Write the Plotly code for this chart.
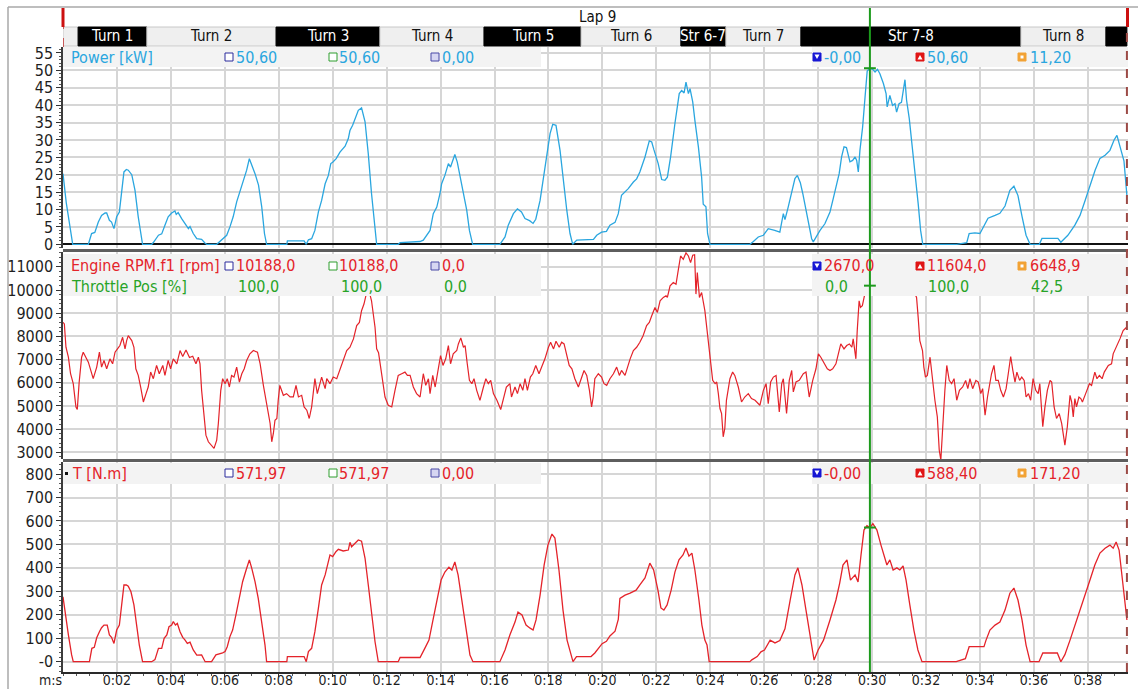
import plotly.graph_objects as go

# ---------------- channel data (time in s from lap start) ----------------
power_t = [0.00, 0.12, 0.36, 0.94, 1.06, 1.18, 1.31, 1.43, 1.56, 1.62, 1.72, 1.80, 1.89, 1.99, 2.09, 2.18,
           2.26, 2.35, 2.42, 2.55, 2.67, 2.79, 2.95, 3.29, 3.35, 3.54, 3.66, 3.78, 3.90, 4.03, 4.15, 4.20,
           4.27, 4.40, 4.52, 4.65, 4.71, 4.83, 4.96, 5.14, 5.27, 5.33, 5.70, 5.88, 6.07, 6.19, 6.31, 6.44,
           6.63, 6.81, 6.91, 7.00, 7.12, 7.25, 7.37, 7.47, 7.55, 8.30, 8.32, 8.94, 9.02, 9.10, 9.22, 9.34,
           9.47, 9.59, 9.72, 9.84, 9.93, 10.00, 10.13, 10.27, 10.46, 10.58, 10.64, 10.74, 10.83, 10.95,
           11.07, 11.20, 11.32, 11.44, 11.63, 12.43, 12.50, 13.24, 13.36, 13.49, 13.61, 13.73, 13.86,
           13.98, 14.04, 14.16, 14.29, 14.37, 14.53, 14.62, 14.72, 14.85, 14.97, 15.07, 15.19, 16.20,
           16.39, 16.51, 16.70, 16.85, 17.00, 17.13, 17.30, 17.43, 17.53, 17.69, 17.81, 17.93, 18.06,
           18.16, 18.28, 18.43, 18.55, 18.68, 18.80, 18.90, 19.05, 19.42, 19.67, 19.79, 19.97, 20.15,
           20.28, 20.47, 20.59, 20.71, 20.84, 20.96, 21.15, 21.27, 21.39, 21.58, 21.74, 21.83, 21.91,
           22.07, 22.20, 22.32, 22.41, 22.53, 22.69, 22.85, 22.94, 23.03, 23.10, 23.19, 23.25, 23.35,
           23.43, 23.56, 23.68, 23.74, 23.84, 23.90, 23.99, 25.47, 25.60, 25.78, 25.97, 26.15, 26.39,
           26.58, 26.71, 26.77, 26.89, 27.02, 27.14, 27.23, 27.34, 27.43, 27.52, 27.64, 27.76, 27.82,
           27.95, 28.07, 28.25, 28.44, 28.56, 28.69, 28.78, 28.87, 28.96, 29.05, 29.18, 29.28, 29.37,
           29.43, 29.49, 29.55, 29.65, 29.74, 29.82, 29.92, 30.03, 30.11, 30.20, 30.29, 30.42, 30.52,
           30.56, 30.66, 30.76, 30.85, 30.91, 31.00, 31.09, 31.22, 31.28, 31.38, 31.47, 31.59, 31.71,
           31.80, 31.88, 33.14, 33.51, 33.60, 33.81, 34.00, 34.30, 34.56, 34.74, 34.93, 35.11, 35.26,
           35.41, 35.56, 35.71, 35.86, 36.20, 36.30, 36.89, 37.00, 37.26, 37.52, 37.71, 37.90, 38.08,
           38.27, 38.45, 38.64, 38.82, 38.97, 39.08, 39.19, 39.34, 39.45]
power_kw = [20.3, 12.0, 0.0, 0.0, 3.1, 3.4, 6.4, 8.3, 9.0, 9.0, 6.9, 6.4, 4.5, 7.9, 9.3, 14.6,
            20.8, 21.5, 21.3, 20.0, 15.5, 7.9, 0.0, 0.0, 0.5, 2.6, 3.0, 5.5, 7.9, 9.0, 9.6, 8.6,
            9.1, 7.4, 6.0, 4.5, 5.1, 3.1, 1.6, 1.4, 0.3, 0.0, 0.0, 1.3, 2.6, 5.0, 7.9, 12.2,
            17.0, 21.3, 24.6, 22.8, 20.3, 17.0, 10.7, 3.1, 0.0, 0.0, 1.0, 1.0, 0.0, 1.3, 1.6, 4.0,
            9.3, 12.6, 17.4, 19.8, 23.2, 23.6, 24.6, 26.5, 28.2, 30.4, 32.7, 34.2, 36.1, 38.5,
            39.2, 35.2, 26.0, 14.6, 0.0, 0.0, 0.5, 0.8, 1.2, 2.6, 4.0, 8.8, 10.7,
            14.6, 17.4, 19.8, 23.2, 22.2, 25.8, 23.6, 19.8, 15.0, 9.8, 4.0, 0.0, 0.0,
            2.1, 5.5, 8.8, 10.2, 9.3, 7.4, 6.8, 6.0, 7.2, 12.6, 19.3, 26.0, 31.8,
            34.5, 34.2, 27.0, 18.4, 9.8, 3.1, 0.0, 1.2, 1.2, 1.4, 2.6, 3.5, 3.7,
            5.5, 6.3, 8.8, 14.1, 15.0, 16.0, 17.9, 18.8, 20.8, 25.1, 29.7, 29.4, 27.2,
            23.2, 18.6, 18.4, 19.3, 25.1, 34.7, 43.3, 44.2, 43.5, 46.6, 43.3, 44.7, 40.9,
            35.6, 28.0, 19.3, 11.5, 10.8, 3.1, 0.0, 0.0, 0.8, 2.1, 2.6, 4.5, 4.0,
            3.5, 8.8, 7.1, 10.7, 14.6, 18.9, 19.8, 17.7, 14.6, 10.9, 5.9, 1.6, 0.7,
            2.6, 4.0, 5.9, 9.3, 13.1, 17.4, 20.3, 25.1, 28.0, 27.8, 23.7, 24.1, 25.1,
            24.1, 20.8, 27.0, 33.7, 42.3, 49.8, 50.6, 50.2, 49.5, 50.3, 49.0, 46.2, 43.3,
            39.5, 42.8, 39.9, 40.4, 38.0, 40.4, 40.8, 47.3, 41.4, 36.1, 29.9, 21.3, 11.7,
            4.0, 0.0, 0.0, 0.5, 3.1, 3.3, 3.1, 7.5, 8.3, 8.9, 11.0, 15.5, 16.7,
            14.0, 8.0, 2.6, 0.0, 0.0, 1.7, 1.7, 0.6, 2.6, 5.5, 8.3, 12.6, 17.0,
            21.3, 24.7, 25.6, 27.0, 29.9, 31.3, 28.4, 24.0, 14.0]

rpm_t = [0.00, 0.05, 0.11, 0.20, 0.28, 0.38, 0.48, 0.53, 0.60, 0.69, 0.75, 0.85, 0.94, 1.03, 1.12, 1.25,
         1.35, 1.43, 1.52, 1.62, 1.74, 1.84, 1.93, 2.02, 2.11, 2.21, 2.30, 2.36, 2.42, 2.55, 2.63, 2.70,
         2.79, 2.88, 2.98, 3.08, 3.16, 3.25, 3.35, 3.47, 3.57, 3.70, 3.78, 3.90, 3.99, 4.09, 4.22, 4.34,
         4.44, 4.56, 4.69, 4.81, 4.93, 5.02, 5.08, 5.14, 5.23, 5.30, 5.39, 5.51, 5.60, 5.70, 5.76, 5.85,
         5.92, 6.01, 6.09, 6.17, 6.25, 6.34, 6.44, 6.54, 6.63, 6.72, 6.81, 6.93, 7.06, 7.21, 7.31, 7.43,
         7.56, 7.68, 7.74, 7.80, 7.86, 7.93, 7.98, 8.04, 8.17, 8.29, 8.42, 8.54, 8.64, 8.73, 8.85, 8.94,
         9.04, 9.13, 9.22, 9.34, 9.43, 9.53, 9.59, 9.72, 9.78, 9.90, 10.02, 10.15, 10.33, 10.52, 10.64,
         10.77, 10.89, 10.99, 11.07, 11.16, 11.26, 11.35, 11.44, 11.57, 11.63, 11.70, 11.80, 11.88,
         11.94, 12.06, 12.19, 12.31, 12.43, 12.56, 12.68, 12.77, 12.87, 12.99, 13.11, 13.24, 13.36,
         13.45, 13.55, 13.61, 13.71, 13.80, 13.92, 14.00, 14.09, 14.19, 14.29, 14.37, 14.47, 14.60,
         14.66, 14.75, 14.85, 14.91, 14.99, 15.07, 15.16, 15.24, 15.34, 15.46, 15.59, 15.68, 15.77,
         15.86, 15.96, 16.09, 16.23, 16.36, 16.44, 16.57, 16.63, 16.76, 16.85, 16.95, 17.05, 17.13,
         17.22, 17.33, 17.42, 17.53, 17.65, 17.77, 17.87, 18.00, 18.08, 18.19, 18.28, 18.40, 18.49,
         18.58, 18.67, 18.77, 18.87, 18.98, 19.11, 19.23, 19.32, 19.42, 19.52, 19.60, 19.66, 19.72,
         19.85, 19.97, 20.06, 20.16, 20.28, 20.41, 20.53, 20.63, 20.71, 20.84, 20.93, 21.03, 21.15,
         21.27, 21.39, 21.51, 21.64, 21.74, 21.83, 21.95, 22.04, 22.14, 22.26, 22.36, 22.41, 22.51,
         22.63, 22.73, 22.82, 22.90, 23.00, 23.10, 23.19, 23.27, 23.35, 23.42, 23.47, 23.52, 23.60,
         23.68, 23.80, 23.93, 24.02, 24.09, 24.18, 24.24, 24.30, 24.36, 24.42, 24.48, 24.54, 24.60,
         24.66, 24.73, 24.83, 24.91, 25.04, 25.16, 25.28, 25.41, 25.53, 25.66, 25.84, 25.97, 26.07,
         26.15, 26.24, 26.34, 26.44, 26.56, 26.65, 26.71, 26.83, 26.93, 27.02, 27.08, 27.18, 27.30,
         27.45, 27.55, 27.67, 27.80, 27.92, 28.01, 28.10, 28.17, 28.26, 28.34, 28.44, 28.54, 28.66,
         28.75, 28.84, 28.96, 29.06, 29.16, 29.25, 29.30, 29.40, 29.45, 29.52, 29.57, 29.64, 29.73,
         29.92, 30.30, 30.80, 31.30, 31.65, 31.71, 31.77, 31.87, 31.92, 31.98, 32.05, 32.15, 32.25,
         32.33, 32.42, 32.49, 32.55, 32.62, 32.70, 32.77, 32.86, 32.95, 33.04, 33.14, 33.24, 33.36,
         33.47, 33.55, 33.63, 33.73, 33.85, 33.94, 34.03, 34.10, 34.19, 34.28, 34.37, 34.43, 34.52,
         34.59, 34.68, 34.77, 34.87, 34.97, 35.05, 35.14, 35.22, 35.30, 35.37, 35.47, 35.55, 35.64,
         35.71, 35.80, 35.88, 35.97, 36.07, 36.16, 36.22, 36.33, 36.41, 36.50, 36.60, 36.66, 36.75,
         36.84, 36.94, 37.03, 37.15, 37.24, 37.34, 37.40, 37.46, 37.52, 37.58, 37.67, 37.74, 37.80,
         37.92, 38.06, 38.14, 38.26, 38.34, 38.43, 38.53, 38.61, 38.76, 38.88, 38.94, 39.06, 39.19,
         39.31, 39.41, 39.45]
rpm_val = [8605, 8540, 7532, 7103, 6390, 5961, 4957, 4845, 6030, 7103, 7318, 7103, 6889, 6532, 6176, 6675,
           7318, 6675, 6961, 6604, 7032, 6818, 7318, 7461, 7605, 7962, 7461, 7818, 8034, 7818, 7532, 6604,
           6318, 5815, 5172, 5532, 5817, 6460, 6176, 6747, 6390, 6747, 6318, 6961, 6604, 7032, 6818, 7390,
           7132, 7418, 7089, 7146, 6818, 7103, 6818, 5674, 4674, 3742, 3455, 3313, 3170, 3527, 4245, 5674,
           6176, 5961, 6176, 5817, 6318, 6247, 6675, 6032, 6390, 6604, 6961, 7247, 7390, 7318, 6818, 5889,
           4957, 4245, 3455, 3813, 4386, 4460, 5245, 5889, 5460, 5532, 5389, 5389, 5889, 5389, 5460, 4957,
           4817, 4459, 4957, 6176, 5532, 5961, 6246, 5746, 6176, 5961, 6246, 6176, 6747, 7390, 7532,
           7893, 8464, 8605, 9108, 9394, 9900, 9950, 9537, 8393, 7464, 7300, 6500, 5961,
           5386, 5030, 4957, 5674, 6318, 6390, 6460, 6318, 6318, 5817, 5532, 5386, 6390,
           5889, 6176, 5532, 6318, 5817, 6604, 7175, 6747, 7032, 7605, 6818, 7249, 7390,
           7675, 7935, 7532, 7605, 6818, 6103, 5961, 6176, 5674, 5245, 5817, 6176, 5961,
           6103, 5532, 5245, 4845, 5386, 5817, 5961, 5386, 5817, 5532, 5961, 5674, 6176,
           5674, 6246, 6390, 6747, 6390, 6747, 7032, 7532, 7747, 7461, 7790, 7532, 7747,
           7675, 7249, 6747, 6604, 6176, 5817, 6176, 6532, 6318, 5674, 4957, 5386, 6176,
           6390, 6246, 5961, 5889, 6176, 6390, 6675, 6318, 6532, 6318, 6675, 7032, 7390,
           7532, 7747, 8032, 8464, 8605, 8893, 9250, 9036, 9537, 9680, 9750, 9680, 10180,
           10322, 10250, 10897, 11468, 11326, 11604, 11468, 11181, 11500, 11520, 9824, 10751, 9680,
           9894, 9108, 7678, 6675, 6103, 5961, 6032, 5532, 4888, 4674, 3670, 4030, 5245,
           5674, 6176, 6460, 6318, 5817, 5172, 5386, 5532, 5317, 5245, 5030, 5674, 5961,
           5103, 6032, 6246, 6318, 4745, 5961, 6176, 4674, 6103, 6532, 5604, 6032, 6103,
           6390, 6460, 5386, 6103, 6604, 7249, 7103, 6961, 6747, 6604, 6532, 6604, 6818,
           7318, 7678, 7461, 7605, 7675, 7532, 7893, 7032, 8250, 9537, 9250, 9322, 9824,
           10188, 10500, 10900, 10600, 9680, 8820, 7820, 7390, 6675, 6246, 6318, 7103, 5961,
           5245, 4530, 3099, 2670, 4245, 5674, 6747, 6103, 5961, 6176, 5245, 5674, 5817,
           6103, 5746, 6176, 5746, 6103, 6032, 5532, 5746, 4601, 5386, 6103, 6390, 6747,
           6103, 6103, 5674, 5386, 5746, 6390, 7132, 6532, 6032, 6460, 6103, 6246, 6103,
           5386, 5532, 5245, 6176, 5674, 5532, 5961, 4101, 4957, 5674, 6103, 6032, 4957,
           4459, 4674, 4245, 3313, 4101, 5460, 5172, 4530, 5317, 4957, 5386, 5317, 5172,
           5532, 5961, 5889, 6460, 6176, 6318, 6176, 6460, 6747, 6818, 7249, 7532, 7893,
           8250, 8364, 8300]

torque_t = [0.00, 0.07, 0.20, 0.32, 0.38, 0.98, 1.07, 1.16, 1.25, 1.35, 1.43, 1.52, 1.64, 1.72, 1.80, 1.89,
            1.99, 2.09, 2.18, 2.26, 2.35, 2.42, 2.52, 2.63, 2.73, 2.83, 2.95, 3.29, 3.41, 3.54, 3.66, 3.75,
            3.85, 3.93, 4.03, 4.09, 4.17, 4.24, 4.34, 4.44, 4.52, 4.61, 4.71, 4.83, 4.96, 5.14, 5.27, 5.51,
            5.67, 5.82, 5.92, 6.01, 6.09, 6.19, 6.29, 6.41, 6.54, 6.66, 6.79, 6.91, 7.00, 7.12, 7.24, 7.37,
            7.49, 7.55, 8.30, 8.32, 8.94, 9.02, 9.10, 9.22, 9.34, 9.47, 9.59, 9.72, 9.84, 9.90, 10.00,
            10.12, 10.21, 10.39, 10.58, 10.64, 10.70, 10.83, 10.95, 11.07, 11.20, 11.32, 11.44, 11.57,
            11.69, 12.43, 12.50, 13.24, 13.42, 13.57, 13.72, 13.87, 14.02, 14.16, 14.31, 14.42, 14.53,
            14.65, 14.79, 14.94, 15.09, 15.20, 16.20, 16.39, 16.57, 16.76, 16.87, 17.02, 17.17, 17.32,
            17.43, 17.54, 17.69, 17.84, 17.98, 18.13, 18.24, 18.39, 18.54, 18.69, 18.84, 18.91, 19.04,
            19.58, 19.72, 19.99, 20.15, 20.28, 20.47, 20.59, 20.65, 20.84, 21.03, 21.25, 21.39, 21.58,
            21.76, 21.90, 22.06, 22.17, 22.28, 22.40, 22.55, 22.69, 22.84, 22.99, 23.10, 23.21, 23.32,
            23.43, 23.58, 23.69, 23.80, 23.88, 23.96, 25.47, 25.54, 25.74, 25.88, 26.01, 26.22, 26.40,
            26.58, 26.77, 26.96, 27.14, 27.25, 27.40, 27.55, 27.70, 27.85, 28.00, 28.20, 28.44, 28.66,
            28.80, 28.92, 29.07, 29.20, 29.37, 29.48, 29.59, 29.70, 29.81, 29.92, 30.03, 30.18, 30.33,
            30.44, 30.55, 30.66, 30.78, 30.92, 31.03, 31.15, 31.26, 31.40, 31.55, 31.70, 31.85, 33.12,
            33.46, 33.60, 34.15, 34.22, 34.37, 34.56, 34.74, 34.93, 35.11, 35.26, 35.41, 35.56, 35.71,
            35.86, 36.19, 36.33, 36.87, 37.00, 37.15, 37.34, 37.53, 37.71, 37.90, 38.08, 38.26, 38.45,
            38.64, 38.82, 38.94, 39.05, 39.16, 39.27, 39.38, 39.45]
torque_nm = [277, 213, 114, 29, 0, 0, 57, 61, 102, 128, 145, 156, 156, 114, 104, 78,
             135, 156, 256, 327, 327, 322, 298, 242, 156, 71, 0, 0, 9, 57, 57, 100,
             114, 149, 156, 171, 156, 163, 128, 104, 93, 78, 83, 50, 28, 29, 0, 0,
             29, 33, 38, 43, 64, 107, 135, 199, 270, 341, 391, 434, 398, 341, 270, 171,
             71, 0, 0, 22, 22, 0, 43, 57, 128, 228, 327, 370, 419, 455, 448,
             469, 479, 472, 476, 509, 490, 505, 519, 514, 441, 327, 199, 85,
             0, 0, 18, 18, 58, 92, 178, 263, 348, 382, 403, 391, 425,
             370, 263, 135, 28, 0, 0, 50, 114, 169, 212, 199, 156, 143,
             135, 178, 284, 412, 497, 544, 527, 391, 220, 92, 28, 0, 22,
             22, 37, 77, 87, 110, 130, 180, 270, 284, 292, 305, 327, 357,
             420, 391, 305, 229, 220, 242, 305, 382, 434, 455, 485, 450, 463,
             391, 263, 156, 92, 71, 0, 0, 8, 22, 42, 50, 92, 80,
             90, 140, 260, 370, 400, 327, 220, 114, 7, 50, 92, 178, 263,
             335, 412, 434, 348, 370, 340, 455, 561, 580, 571.97, 588.4, 561, 497,
             455, 412, 434, 391, 400, 391, 408, 348, 242, 135, 50, 0, 0,
             13, 64, 64, 90, 135, 156, 169, 220, 292, 314, 263, 178, 71,
             0, 0, 37, 37, 0, 30, 92, 156, 220, 284, 348, 412, 463,
             484, 497, 484, 510, 476, 370, 242, 178]

# lap / cursor
lap_label = "Lap 9"
lap_start = 0.0
lap_end = 39.45
cursor_t = 29.92
cursor_power = 50.60
cursor_rpm = 10188.0
cursor_torque = 571.97

# track sections
section_names = ["", "Turn 1", "Turn 2", "Turn 3", "Turn 4", "Turn 5", "Turn 6", "Str 6-7",
                 "Turn 7", "Str 7-8", "Turn 8", ""]
section_starts = [0.0, 0.56, 3.11, 7.90, 11.75, 15.61, 19.21, 22.91, 24.58, 27.36, 35.52, 38.67]
section_dark = [False, True, False, True, False, True, False, True, False, True, False, True]

# header read-outs
power_stats = ["50,60", "50,60", "0,00", "-0,00", "50,60", "11,20"]
rpm_stats = ["10188,0", "10188,0", "0,0", "2670,0", "11604,0", "6648,9"]
throttle_stats = ["100,0", "100,0", "0,0", "0,0", "100,0", "42,5"]
torque_stats = ["571,97", "571,97", "0,00", "-0,00", "588,40", "171,20"]

# axis ticks
x_tick_vals = [2, 4, 6, 8, 10, 12, 14, 16, 18, 20, 22, 24, 26, 28, 30, 32, 34, 36, 38]
x_tick_text = ["0:02", "0:04", "0:06", "0:08", "0:10", "0:12", "0:14", "0:16", "0:18", "0:20",
               "0:22", "0:24", "0:26", "0:28", "0:30", "0:32", "0:34", "0:36", "0:38"]
power_ticks = [0, 5, 10, 15, 20, 25, 30, 35, 40, 45, 50, 55]
rpm_ticks = [3000, 4000, 5000, 6000, 7000, 8000, 9000, 10000, 11000]
rpm_tick_text = ["3000", "4000", "5000", "6000", "7000", "8000", "9000", "10000", "11000"]
torque_ticks = [0, 100, 200, 300, 400, 500, 600, 700, 800]
torque_tick_text = ["-0", "100", "200", "300", "400", "500", "600", "700", "800"]

# ---------------- styling ----------------
W, H = 1138, 689
FONT = "DejaVu Sans Condensed, DejaVu Sans, sans-serif"
BLUE = "#2aa6df"
RED = "#e4232a"
GREEN = "#27a327"
CURSOR = "#1c9a1c"
GRID = "#d6d6d6"


def fx(p):
    return p / W


def fy(p):
    return 1 - p / H


X_DOM = [fx(63), fx(1128)]
X_RANGE = [0, 39.49]

fig = go.Figure()
fig.add_trace(go.Scatter(x=power_t, y=power_kw, mode="lines", line=dict(color=BLUE, width=1.3),
                         xaxis="x", yaxis="y", hoverinfo="skip"))
fig.add_trace(go.Scatter(x=rpm_t, y=rpm_val, mode="lines", line=dict(color=RED, width=1.2),
                         xaxis="x2", yaxis="y2", hoverinfo="skip"))
fig.add_trace(go.Scatter(x=torque_t, y=torque_nm, mode="lines", line=dict(color=RED, width=1.3),
                         xaxis="x3", yaxis="y3", hoverinfo="skip"))

ytick_font = dict(family=FONT, size=16, color="#1e1e1e")
xtick_font = dict(family=FONT, size=14, color="#1e1e1e")
xcommon = dict(domain=X_DOM, range=X_RANGE, showgrid=True, gridcolor=GRID, gridwidth=1.5,
               tickmode="array", tickvals=x_tick_vals, zeroline=False, fixedrange=True,
               automargin=False)
ycommon = dict(showgrid=True, gridcolor=GRID, gridwidth=1.5, ticks="outside", ticklen=5,
               tickcolor="#333", showline=True, linecolor="#3c3c3c", linewidth=1.5,
               tickfont=ytick_font, tickmode="array", fixedrange=True, automargin=False)

fig.update_layout(
    width=W, height=H,
    margin=dict(l=0, r=0, t=0, b=0, autoexpand=False),
    paper_bgcolor="white", plot_bgcolor="white",
    showlegend=False,
    font=dict(family=FONT),
    xaxis=dict(**xcommon, anchor="y", showticklabels=False),
    xaxis2=dict(**xcommon, anchor="y2", matches="x", showticklabels=False),
    xaxis3=dict(**xcommon, anchor="y3", matches="x", ticktext=x_tick_text, ticks="outside",
                ticklen=3, tickcolor="#333", tickfont=xtick_font, showline=True,
                linecolor="#2a2a2a", linewidth=2, ticklabelstandoff=-9,
                minor=dict(dtick=0.5, ticks="outside", ticklen=2, tickcolor="#555", showgrid=False)),
    yaxis=dict(**ycommon, domain=[fy(248), fy(47)], range=[(244.3 - 248) / 3.48, (244.3 - 47) / 3.48],
               tickvals=power_ticks, zeroline=True, zerolinecolor="#111", zerolinewidth=1.5,
               anchor="x", minor=dict(dtick=1, ticks="outside", ticklen=2, tickcolor="#555")),
    yaxis2=dict(**ycommon, domain=[fy(459), fy(252)],
                range=[3000 + (452.3 - 459) * 42.92, 3000 + (452.3 - 251) * 42.92],
                tickvals=rpm_ticks, ticktext=rpm_tick_text, zeroline=False, anchor="x2",
                minor=dict(dtick=200, ticks="outside", ticklen=2, tickcolor="#555")),
    yaxis3=dict(**ycommon, domain=[fy(672), fy(462)],
                range=[(661.7 - 672) * 4.263, (661.7 - 462) * 4.263],
                tickvals=torque_ticks, ticktext=torque_tick_text, zeroline=False, anchor="x3",
                minor=dict(dtick=20, ticks="outside", ticklen=2, tickcolor="#555")),
)

shapes = []
ann = []


def rect_px(x0, y0, x1, y1, fill, line=None, layer="above"):
    shapes.append(dict(type="rect", xref="paper", yref="paper", x0=fx(x0), x1=fx(x1),
                       y0=fy(y1), y1=fy(y0), fillcolor=fill, layer=layer,
                       line=dict(width=1 if line else 0, color=line or fill)))


def line_px(x0, y0, x1, y1, color, width, dash="solid", layer="above"):
    shapes.append(dict(type="line", xref="paper", yref="paper", x0=fx(x0), x1=fx(x1),
                       y0=fy(y0), y1=fy(y1), layer=layer,
                       line=dict(color=color, width=width, dash=dash)))


def text_px(x, y, s, color, size=16, anchor="left"):
    ann.append(dict(xref="paper", yref="paper", x=fx(x), y=fy(y), text=s, showarrow=False,
                    xanchor=anchor, yanchor="middle",
                    font=dict(family=FONT, size=size, color=color)))


# outer frame
line_px(8, 7, 1138, 7, "#a8a8a8", 1.5)
line_px(8, 7, 8, 689, "#a8a8a8", 1.5)

# lap row and section bar
text_px(597, 17, lap_label, "#111", size=15, anchor="center")
bar_top, bar_bot = 27, 46
for i, name in enumerate(section_names):
    t0 = section_starts[i]
    t1 = section_starts[i + 1] if i + 1 < len(section_starts) else lap_end
    dark = section_dark[i]
    shapes.append(dict(type="rect", xref="x", yref="paper", x0=t0, x1=t1, y0=fy(bar_bot), y1=fy(bar_top),
                       fillcolor="#000000" if dark else "#efefef", layer="above",
                       line=dict(width=1, color="#000000" if dark else "#c8c8c8")))
    if name:
        ann.append(dict(xref="x", yref="paper", x=(t0 + t1) / 2, y=fy(36), text=name, showarrow=False,
                        xanchor="center", yanchor="middle",
                        font=dict(family=FONT, size=15, color="white" if dark else "#111")))

# panel separators
for yy in (250.5, 460.5):
    line_px(63, yy, 1128, yy, "#5e5e5e", 3)

# header boxes
for (y0, y1) in ((47, 67), (254, 296), (463, 484)):
    rect_px(63, y0, 541, y1, "#f3f3f3")
    rect_px(812, y0, 1128, y1, "#f3f3f3")

# read-out icons
icon_x = [225, 329, 431, 813, 916, 1018]
icon_style = [("white", "#2b2b9c"), ("white", "#2f9e2f"), ("#d6d6f2", "#4848a6"),
              ("#1717d4", "#1717d4"), ("#e01414", "#e01414"), ("#f2a234", "#f2a234")]


def icons(yc):
    for ix, (fill, edge) in zip(icon_x, icon_style):
        rect_px(ix, yc - 4, ix + 8, yc + 4, fill, edge)
    x = icon_x[3]
    shapes.append(dict(type="path", xref="paper", yref="paper", fillcolor="white", layer="above",
                       line=dict(width=0),
                       path=f"M {fx(x+1.5)},{fy(yc-2.5)} L {fx(x+6.5)},{fy(yc-2.5)} L {fx(x+4)},{fy(yc+2)} Z"))
    x = icon_x[4]
    shapes.append(dict(type="path", xref="paper", yref="paper", fillcolor="white", layer="above",
                       line=dict(width=0),
                       path=f"M {fx(x+1.5)},{fy(yc+2.5)} L {fx(x+6.5)},{fy(yc+2.5)} L {fx(x+4)},{fy(yc-2)} Z"))
    x = icon_x[5]
    rect_px(x + 2.5, yc - 1.5, x + 5.5, yc + 1.5, "white")


value_x = [234, 337, 440, 822, 925, 1028]

# power header
text_px(69, 57, "Power [kW]", BLUE)
icons(57)
for vx, s in zip(value_x, power_stats):
    text_px(vx, 57, s, BLUE)

# rpm / throttle header
text_px(69, 266, "Engine RPM.f1 [rpm]", RED)
icons(266)
for vx, s in zip(value_x, rpm_stats):
    text_px(vx, 266, s, RED)
text_px(69, 286, "Throttle Pos [%]", GREEN)
for vx, s in zip([236, 339, 442, 823, 926, 1029], throttle_stats):
    text_px(vx, 286, s, GREEN)

# torque header
rect_px(65, 472, 68, 475, "#111")
text_px(70, 473, "T [N.m]", RED)
icons(473)
for vx, s in zip(value_x, torque_stats):
    text_px(vx, 473, s, RED)

# lap markers
line_px(63, 8, 63, 27, "#cc1010", 3)
shapes.append(dict(type="line", xref="x", yref="paper", x0=lap_start, x1=lap_start, y0=fy(47), y1=fy(27),
                   line=dict(color="#c43030", width=1.5, dash="dash"), layer="above"))
line_px(1127.5, 8, 1127.5, 27, "#cc1010", 3)
shapes.append(dict(type="line", xref="x", yref="paper", x0=lap_end, x1=lap_end, y0=fy(672), y1=fy(27),
                   line=dict(color="#9c4a46", width=2, dash="dash"), layer="above"))

# cursor
shapes.append(dict(type="line", xref="x", yref="paper", x0=cursor_t, x1=cursor_t, y0=fy(672), y1=fy(8),
                   line=dict(color=CURSOR, width=2), layer="above"))
half = 0.22
for xr, yr, val in (("x", "y", cursor_power), ("x2", "y2", cursor_rpm), ("x3", "y3", cursor_torque)):
    shapes.append(dict(type="line", xref=xr, yref=yr, x0=cursor_t - half, x1=cursor_t + half,
                       y0=val, y1=val, line=dict(color=CURSOR, width=2), layer="above"))

# x unit label
text_px(50, 680, "m:s", "#1e1e1e", size=14, anchor="center")

fig.update_layout(shapes=shapes, annotations=ann)
fig.write_html("out.html")
